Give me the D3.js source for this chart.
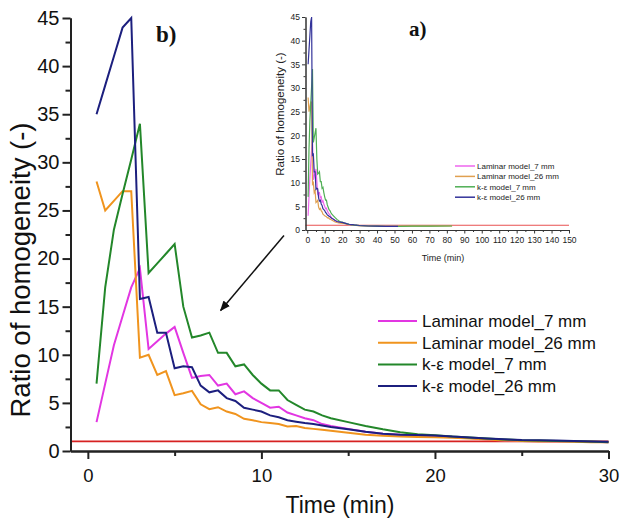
<!DOCTYPE html>
<html><head><meta charset="utf-8">
<script src="https://cdn.jsdelivr.net/npm/d3@7"></script>
<style>
html,body{margin:0;padding:0;background:#fff;}
svg{display:block;font-family:"Liberation Sans",Arial,sans-serif;}
</style></head>
<body>
<svg id="chart" width="620" height="521"></svg>
<script>
// ---------- DATA ----------
const time = [0.5,1,1.5,2,2.5,3,3.5,4,4.5,5,5.5,6,6.5,7,7.5,8,8.5,9,9.5,10,10.5,11,11.5,12,12.5,13,13.5,14,
  15,16,17,18,19,20,21,22,23,24,25,26,27,28,29,30];
const laminar7 = [3,7,11,14,17,19,10.6,11.4,12.2,12.9,10.2,7.6,7.8,7.9,6.8,7.0,5.9,6.2,5.5,5.0,4.5,4.6,4.0,3.7,3.4,3.2,2.8,2.6,
  2.3,2.0,1.8,1.7,1.62,1.55,1.45,1.35,1.2,1.1,1.05,1.02,1.0,0.98,0.95,0.92];
const laminar26 = [28,25,26,27,27,9.7,10,7.9,8.3,5.8,6.0,6.25,4.85,4.35,4.55,4.1,3.85,3.35,3.2,3.0,2.9,2.8,2.55,2.6,2.4,2.3,2.2,2.1,
  1.9,1.7,1.58,1.5,1.45,1.42,1.38,1.3,1.2,1.1,1.05,1.0,0.98,0.95,0.92,0.9];
const ke7 = [7,17,23,26.7,30.3,34,18.5,19.5,20.5,21.5,15,11.8,12,12.3,10.2,10.2,8.8,9.0,7.9,7.0,6.3,6.3,5.3,4.8,4.3,4.1,3.7,3.4,
  3.0,2.6,2.25,1.95,1.75,1.65,1.5,1.4,1.3,1.2,1.12,1.08,1.05,1.02,0.98,0.92];
const ke26 = [35,38,41,44,45,15.8,16,12.3,12.3,8.6,8.8,8.7,6.8,6.1,6.3,5.5,5.2,4.5,4.3,4.1,3.7,3.5,3.2,3.05,2.9,2.8,2.65,2.5,
  2.25,2.0,1.8,1.7,1.65,1.6,1.5,1.4,1.3,1.22,1.15,1.12,1.08,1.05,1.0,0.95];
// longer-run tail, shown only in inset a)
const tailTime = [35,40,45,52,60,70,83];
const laminar7Tail = [0.85,0.8,0.78,0.78,null,null,null];
const laminar26Tail = [0.85,0.8,0.78,0.78,0.8,0.82,0.85];
const ke7Tail = [0.85,0.8,0.78,0.78,0.8,0.82,0.85];
const ke26Tail = [0.85,0.8,0.78,0.78,null,null,null];
const seriesNames = ["Laminar model_7 mm","Laminar model_26 mm","k-\u03b5 model_7 mm","k-\u03b5 model_26 mm"];
const referenceLevel = 1;
const mainXTicks = [0,10,20,30];
const mainYTicks = [0,5,10,15,20,25,30,35,40,45];
const insetXTicks = [0,10,20,30,40,50,60,70,80,90,100,110,120,130,140,150];
const insetYTicks = [0,5,10,15,20,25,30,35,40,45];

// ---------- STYLE ----------
const mainColors = ["#e236e2","#f0941e","#23872a","#1c1f7e"];
const insetColors = ["#ee66ee","#e0a050","#4fae55","#33339a"];
const redColor = "#d62222";
const axisColor = "#222";

const svg = d3.select("#chart");
const seriesVals = [laminar7, laminar26, ke7, ke26];
const seriesTails = [laminar7Tail, laminar26Tail, ke7Tail, ke26Tail];

// ---------- MAIN CHART b) ----------
const x = d3.scaleLinear().domain([-1,30]).range([70.5,608.5]);
const y = d3.scaleLinear().domain([0,45]).range([451,18]);

svg.append("defs").append("clipPath").attr("id","mainclip")
  .append("rect").attr("x",x(-1)).attr("y",y(45)-3).attr("width",x(30)-x(-1)+2).attr("height",y(0)-y(45)+3);

const gMain = svg.append("g");
gMain.append("line").attr("x1",x(-1)).attr("x2",x(30)).attr("y1",y(referenceLevel)).attr("y2",y(referenceLevel))
  .attr("stroke",redColor).attr("stroke-width",1.6);

const lineMain = d3.line().x(d=>x(d[0])).y(d=>y(d[1])).defined(d=>d[1]!=null);
seriesVals.forEach((vals,i)=>{
  gMain.append("path").attr("clip-path","url(#mainclip)")
    .datum(time.map((t,k)=>[t,vals[k]]))
    .attr("d",lineMain).attr("fill","none").attr("stroke",mainColors[i])
    .attr("stroke-width",2).attr("stroke-linejoin","miter");
});

function styleAxis(g, fs){
  g.selectAll(".domain").attr("stroke",axisColor).attr("stroke-width",2);
  g.selectAll(".tick line").attr("stroke",axisColor).attr("stroke-width",2);
  g.selectAll(".tick text").attr("fill","#111").style("font-size",fs+"px");
}
const yMinor = d3.range(2.5,45,5);
svg.append("g").attr("transform",`translate(${x(-1)},0)`)
  .call(d3.axisLeft(y).tickValues(yMinor).tickSize(5).tickSizeOuter(0).tickFormat(""))
  .call(g=>styleAxis(g,17));
svg.append("g").attr("transform",`translate(${x(-1)},0)`)
  .call(d3.axisLeft(y).tickValues(mainYTicks).tickSize(8).tickSizeOuter(0).tickPadding(3).tickFormat(d3.format("d")))
  .call(g=>styleAxis(g,20));
const xMinor = [5,15,25];
svg.append("g").attr("transform",`translate(0,${y(0)})`)
  .call(d3.axisBottom(x).tickValues(xMinor).tickSize(5).tickSizeOuter(0).tickFormat(""))
  .call(g=>styleAxis(g,18));
svg.append("g").attr("transform",`translate(0,${y(0)})`)
  .call(d3.axisBottom(x).tickValues(mainXTicks).tickSize(8).tickSizeOuter(0).tickPadding(10).tickFormat(d3.format("d")))
  .call(g=>styleAxis(g,18.5));

svg.append("text").attr("x",340).attr("y",513).attr("text-anchor","middle")
  .style("font-size","23px").attr("fill","#111").text("Time (min)");
svg.append("text").attr("transform","translate(30,270) rotate(-90)").attr("text-anchor","middle")
  .style("font-size","27.5px").attr("fill","#111").text("Ratio of homogeneity (-)");

svg.append("text").attr("x",156).attr("y",42).style("font-family","'Liberation Serif','Times New Roman',serif")
  .style("font-weight","bold").style("font-size","23px").attr("fill","#111").text("b)");

const legMain = svg.append("g");
seriesNames.forEach((n,i)=>{
  const cy = 321 + i*21.7;
  legMain.append("line").attr("x1",378).attr("x2",417).attr("y1",cy).attr("y2",cy)
    .attr("stroke",mainColors[i]).attr("stroke-width",2);
  legMain.append("text").attr("x",422).attr("y",cy+6).style("font-size","17px").attr("fill","#111").text(n);
});

svg.append("defs").append("marker").attr("id","ah").attr("viewBox","0 0 10 10").attr("refX",9).attr("refY",5)
  .attr("markerWidth",7).attr("markerHeight",7).attr("orient","auto")
  .append("path").attr("d","M0,1 L10,5 L0,9 Z").attr("fill","#111");
svg.append("line").attr("x1",x(11.3)).attr("y1",y(22.4)).attr("x2",x(7.65)).attr("y2",y(14.6))
  .attr("stroke","#111").attr("stroke-width",1.5).attr("marker-end","url(#ah)");

// ---------- INSET a) ----------
const xi = d3.scaleLinear().domain([-1,150]).range([305.5,569]);
const yi = d3.scaleLinear().domain([0,45]).range([230,17]);
const gIn = svg.append("g");
gIn.append("line").attr("x1",xi(-1)).attr("x2",xi(150)).attr("y1",yi(referenceLevel)).attr("y2",yi(referenceLevel))
  .attr("stroke","#e85050").attr("stroke-width",1.2);
const lineIn = d3.line().x(d=>xi(d[0])).y(d=>yi(d[1])).defined(d=>d[1]!=null);
seriesVals.forEach((vals,i)=>{
  const pts = time.map((t,k)=>[t,vals[k]]).concat(tailTime.map((t,k)=>[t,seriesTails[i][k]]));
  gIn.append("path").datum(pts).attr("d",lineIn).attr("fill","none")
    .attr("stroke",insetColors[i]).attr("stroke-width",1.2);
});
function styleInset(g){
  g.selectAll(".domain").attr("stroke","#333").attr("stroke-width",1);
  g.selectAll(".tick line").attr("stroke","#333").attr("stroke-width",1);
  g.selectAll(".tick text").attr("fill","#222").style("font-size","8.5px");
}
svg.append("g").attr("transform",`translate(${xi(-1)},0)`)
  .call(d3.axisLeft(yi).tickValues(d3.range(2.5,45,5)).tickSize(2).tickSizeOuter(0).tickFormat(""))
  .call(styleInset);
svg.append("g").attr("transform",`translate(${xi(-1)},0)`)
  .call(d3.axisLeft(yi).tickValues(insetYTicks).tickSize(3.5).tickSizeOuter(0).tickPadding(2).tickFormat(d3.format("d")))
  .call(styleInset);
svg.append("g").attr("transform",`translate(0,${yi(0)})`)
  .call(d3.axisBottom(xi).tickValues(d3.range(5,150,10)).tickSize(2).tickSizeOuter(0).tickFormat(""))
  .call(styleInset);
svg.append("g").attr("transform",`translate(0,${yi(0)})`)
  .call(d3.axisBottom(xi).tickValues(insetXTicks).tickSize(3.5).tickSizeOuter(0).tickPadding(3).tickFormat(d3.format("d")))
  .call(styleInset);
svg.append("text").attr("x",443).attr("y",261).attr("text-anchor","middle")
  .style("font-size","9px").attr("fill","#222").text("Time (min)");
svg.append("text").attr("transform","translate(284,114) rotate(-90)").attr("text-anchor","middle")
  .style("font-size","11.5px").attr("fill","#222").text("Ratio of homogeneity (-)");
svg.append("text").attr("x",409).attr("y",36).style("font-family","'Liberation Serif','Times New Roman',serif")
  .style("font-weight","bold").style("font-size","21px").attr("fill","#111").text("a)");
seriesNames.forEach((n,i)=>{
  const cy = 166 + i*10.4;
  gIn.append("line").attr("x1",455).attr("x2",475).attr("y1",cy).attr("y2",cy)
    .attr("stroke",insetColors[i]).attr("stroke-width",1.5);
  gIn.append("text").attr("x",477).attr("y",cy+3).style("font-size","8px").attr("fill","#222").text(n);
});
</script>
</body></html>
